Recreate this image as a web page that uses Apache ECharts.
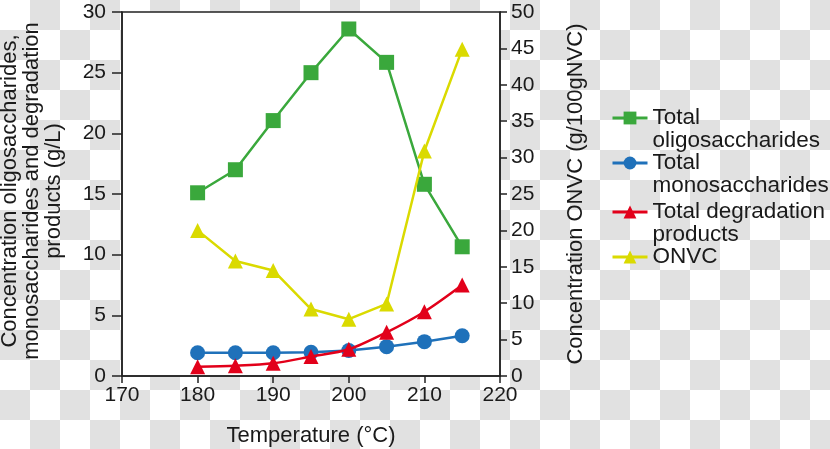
<!DOCTYPE html>
<html><head><meta charset="utf-8">
<script src="https://cdn.jsdelivr.net/npm/echarts@6/dist/echarts.min.js"></script>
<style>
html,body{margin:0;padding:0;}
body{width:830px;height:449px;background-color:#fff;background-image:repeating-conic-gradient(#e1e1e1 0 25%, #ffffff 0 50%);background-size:60px 60px;overflow:hidden;}
#c{width:830px;height:449px;}
</style></head><body><div id="c"></div>
<script>
const temperatures = [180, 185, 190, 195, 200, 205, 210, 215];
const oligosaccharides = [15.1, 17.0, 21.05, 25.0, 28.6, 25.85, 15.8, 10.65];
const monosaccharides = [1.92, 1.92, 1.92, 1.95, 2.1, 2.42, 2.83, 3.32];
const degradationProducts = [0.77, 0.85, 1.05, 1.6, 2.2, 3.6, 5.3, 7.5];
const onvc = [20.0, 15.8, 14.5, 9.2, 7.8, 9.9, 30.9, 44.9];
const seriesNames = ['Total oligosaccharides', 'Total monosaccharides', 'Total degradation products', 'ONVC'];
const legendLabels = ['Total\noligosaccharides', 'Total\nmonosaccharides', 'Total degradation\nproducts', 'ONVC'];
const xRange = [170, 220, 10];
const yLeftRange = [0, 30, 5];
const yRightRange = [0, 50, 5];
const xName = 'Temperature (°C)';
const yLeftName = 'Concentration oligosaccharides,\nmonosaccharides and degradation\nproducts (g/L)';
const yRightName = 'Concentration ONVC (g/100gNVC)';

const colors = ['#3aa83c', '#1f71ba', '#e2001a', '#dada00'];
const symbols = ['rect', 'circle', 'triangle', 'triangle'];
const valueSets = [oligosaccharides, monosaccharides, degradationProducts, onvc];
const axisIdx = [0, 0, 0, 1];
const smoothFlags = [false, false, 0.3, false];
const legendTops = [83.5, 128.5, 177.5, 245.5];

const textColor = '#1a1a1a';
const axisColor = '#222';
const font = 'Liberation Sans, Arial, sans-serif';

const chart = echarts.init(document.getElementById('c'), null, {renderer: 'canvas'});

const series = seriesNames.map((name, i) => ({
  name: name,
  type: 'line',
  yAxisIndex: axisIdx[i],
  data: temperatures.map((t, j) => [t, valueSets[i][j]]),
  symbol: symbols[i],
  symbolSize: 15,
  smooth: smoothFlags[i],
  showAllSymbol: true,
  color: colors[i],
  lineStyle: {color: colors[i], width: 2.5},
  itemStyle: {color: colors[i]},
  emphasis: {disabled: true},
  z: 2 + i
}));

const legends = seriesNames.map((n, i) => ({
  orient: 'vertical',
  left: 611, top: legendTops[i],
  itemWidth: 35, itemHeight: 16,
  padding: 0,
  selectedMode: false,
  lineStyle: {width: 3},
  formatter: () => (legendLabels[i].indexOf('\n') >= 0 ? '\n' : '') + legendLabels[i],
  textStyle: {fontSize: 22.5, lineHeight: 23, color: textColor, fontFamily: font},
  data: [n]
}));

const option = {
  animation: false,
  backgroundColor: 'transparent',
  textStyle: {fontFamily: font},
  grid: {
    left: 122, right: 330, top: 12, bottom: 73,
    show: true, backgroundColor: '#fff', borderColor: axisColor, borderWidth: 1.5,
    containLabel: false, outerBoundsMode: 'none'
  },
  legend: legends,
  xAxis: {
    type: 'value',
    min: xRange[0], max: xRange[1], interval: xRange[2],
    name: xName, nameLocation: 'middle', nameGap: 49, nameMoveOverlap: false,
    nameTextStyle: {fontSize: 22, color: textColor, fontFamily: font},
    axisLine: {show: true, onZero: false, lineStyle: {color: axisColor, width: 1.5}},
    axisTick: {show: true, inside: false, length: 7, lineStyle: {color: axisColor, width: 1.5}},
    axisLabel: {fontSize: 21, color: textColor, margin: 9, showMinLabel: true, showMaxLabel: true, hideOverlap: false},
    splitLine: {show: false}
  },
  yAxis: [{
    type: 'value', position: 'left',
    min: yLeftRange[0], max: yLeftRange[1], interval: yLeftRange[2],
    name: yLeftName, nameLocation: 'middle', nameGap: 57, nameMoveOverlap: false,
    nameTextStyle: {fontSize: 22, lineHeight: 22, color: textColor, align: 'center', fontFamily: font, padding: [0, 0, 0, 6]},
    axisLine: {show: true, onZero: false, lineStyle: {color: axisColor, width: 1.5}},
    axisTick: {show: true, inside: false, length: 10, lineStyle: {color: axisColor, width: 1.5}},
    axisLabel: {fontSize: 21, color: textColor, margin: 16, showMinLabel: true, showMaxLabel: true},
    splitLine: {show: false}
  }, {
    type: 'value', position: 'right',
    min: yRightRange[0], max: yRightRange[1], interval: yRightRange[2],
    name: yRightName, nameLocation: 'middle', nameGap: 65, nameMoveOverlap: false,
    nameTextStyle: {fontSize: 22, color: textColor, fontFamily: font},
    axisLine: {show: true, onZero: false, lineStyle: {color: axisColor, width: 1.5}},
    axisTick: {show: true, inside: false, length: 7, lineStyle: {color: axisColor, width: 1.5}},
    axisLabel: {fontSize: 21, color: textColor, margin: 11, showMinLabel: true, showMaxLabel: true},
    splitLine: {show: false}
  }],
  series: series
};
chart.setOption(option);
</script></body></html>
